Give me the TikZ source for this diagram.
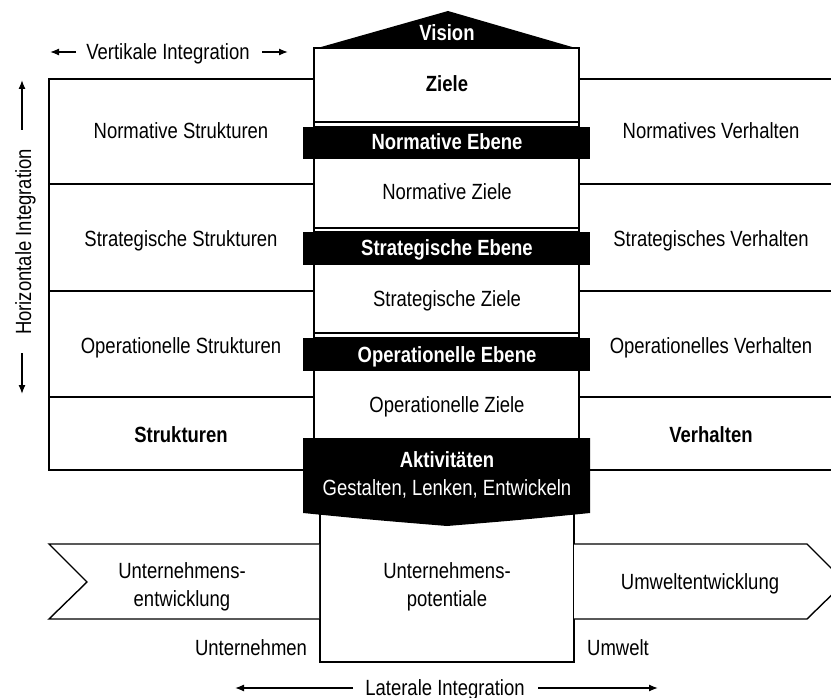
\documentclass[tikz,border=0pt]{standalone}
\usepackage{fontspec}
\setmainfont{Liberation Sans}[FakeStretch=0.84]
\usetikzlibrary{arrows.meta}
\begin{document}
\begin{tikzpicture}[x=1pt,y=-1pt,
  box/.style={draw=black,line width=1.4pt,fill=white},
  txt/.style={anchor=base,inner sep=0pt,font=\fontsize{22}{28}\selectfont},
  btxt/.style={txt,font=\fontsize{22}{28}\selectfont\bfseries},
  wtxt/.style={btxt,text=white},
  integ/.style={line width=1.3pt,-{Latex[length=9pt,width=7pt]}},
]
\useasboundingbox (0,0) rectangle (831,698);
\begin{scope}
\clip (0,0) rectangle (831,698);

% structures (left) and behaviour (right) rows
\draw[box] (49,79) rectangle (314,184);
\draw[box] (49,184) rectangle (314,291);
\draw[box] (49,291) rectangle (314,397);
\draw[box] (49,397) rectangle (314,470);
\draw[box] (579,79) rectangle (850,184);
\draw[box] (579,184) rectangle (850,291);
\draw[box] (579,291) rectangle (850,397);
\draw[box] (579,397) rectangle (850,470);

% central column of goals
\draw[box] (314,48) rectangle (579,122);
\draw[box] (314,127) rectangle (579,228);
\draw[box] (314,232) rectangle (579,333);
\draw[box] (314,338) rectangle (579,440);

% level bands
\fill (303,127) rectangle (590,159);
\fill (303,232) rectangle (590,265);
\fill (303,338) rectangle (590,371);

% vision roof
\fill (314,49) -- (448,11) -- (579,49) -- cycle;

% potentials box
\draw[box] (320,500) rectangle (574,662);

% activities banner
\fill (303,438) -- (590,438) -- (590,513)
  .. controls (520,520) .. (447,526)
  .. controls (374,520) .. (303,513) -- cycle;

% development arrows
\draw[box] (319,544) -- (49,544) -- (87,582) -- (49,619) -- (319,619);
\draw[box] (574,544) -- (807,544) -- (845,582) -- (807,619) -- (574,619);
\end{scope}

% labels of the rows
\node[txt] (ns) at (181,139) {Normative Strukturen};
\node[txt] (ss) at (181,247) {Strategische Strukturen};
\node[txt] (os) at (181,353) {Operationelle Strukturen};
\node[btxt] (st) at (181,442) {Strukturen};
\node[txt] (nv) at (711,139) {Normatives Verhalten};
\node[txt] (sv) at (711,247) {Strategisches Verhalten};
\node[txt] (ov) at (711,353) {Operationelles Verhalten};
\node[btxt] (vh) at (711,442) {Verhalten};

% central column labels
\node[wtxt] (vis) at (447,41) {Vision};
\node[btxt] (zi) at (447,92) {Ziele};
\node[wtxt] (ne) at (447,150) {Normative Ebene};
\node[txt] (nz) at (447,200) {Normative Ziele};
\node[wtxt] (se) at (447,256) {Strategische Ebene};
\node[txt] (sz) at (447,306) {Strategische Ziele};
\node[wtxt] (oe) at (447,362) {Operationelle Ebene};
\node[txt] (oz) at (447,412) {Operationelle Ziele};
\node[wtxt] (akt) at (447,467) {Aktivitäten};
\node[txt,text=white] (gle) at (447,495) {Gestalten, Lenken, Entwickeln};
\node[txt] (up1) at (447,578) {Unternehmens-};
\node[txt] (up2) at (447,606) {potentiale};

% development labels
\node[txt] (ue1) at (182,578) {Unternehmens-};
\node[txt] (ue2) at (182,606) {entwicklung};
\node[txt] (uw) at (700,589) {Umweltentwicklung};
\node[txt] (un) at (251,655) {Unternehmen};
\node[txt] (um) at (618,655) {Umwelt};

% integration directions
\node[txt] (vi) at (168,60) {Vertikale Integration};
\coordinate (vil) at (50,52);
\coordinate (vir) at (288,52);
\coordinate (vila) at (76,52);
\coordinate (vira) at (262,52);
\draw[integ] (vila) -- (vil);
\draw[integ] (vira) -- (vir);

\node[txt,rotate=90] (hi) at (31,242) {Horizontale Integration};
\coordinate (hit) at (22,80);
\coordinate (hib) at (22,394);
\coordinate (hita) at (22,130);
\coordinate (hiba) at (22,353);
\draw[integ] (hita) -- (hit);
\draw[integ] (hiba) -- (hib);

\node[txt] (li) at (445,695) {Laterale Integration};
\coordinate (lil) at (235,688);
\coordinate (lir) at (658,688);
\coordinate (lila) at (353,688);
\coordinate (lira) at (538,688);
\draw[integ] (lila) -- (lil);
\draw[integ] (lira) -- (lir);
\end{tikzpicture}
\end{document}
